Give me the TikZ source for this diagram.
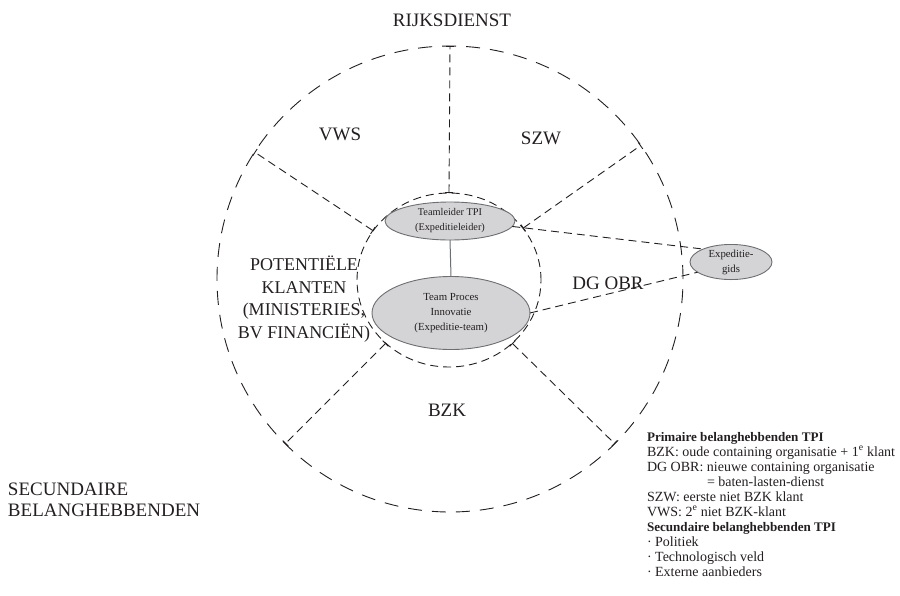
\documentclass[tikz,border=0pt]{standalone}
\usepackage{fontspec}
\setmainfont{Liberation Serif}
\usetikzlibrary{shapes.geometric,arrows.meta}
\definecolor{ink}{HTML}{231F20}
\definecolor{fillg}{HTML}{D4D4D6}
\definecolor{edgeg}{HTML}{6D6E71}
\newcommand{\legbold}[1]{{\fontsize{13.1}{15}\selectfont\bfseries #1}}
\begin{document}
\begin{tikzpicture}[x=1pt,y=-1pt,
  lbl/.style={inner sep=0pt,outer sep=0pt,text=ink,font=\fontsize{19}{22}\selectfont},
  ring/.style={draw=ink,line width=0.9pt,inner sep=0pt,outer sep=0pt},
  divider/.style={draw=ink,line width=0.9pt,dash pattern=on 8pt off 5pt,
    arrows={Bar[width=8pt,line width=0.9pt]-Bar[width=8pt,line width=0.9pt]}},
  dline/.style={draw=ink,line width=0.9pt,dash pattern=on 8pt off 5pt},
  sline/.style={draw=edgeg,line width=1pt},
  ell/.style={ellipse,draw=edgeg,fill=fillg,line width=0.9pt,inner sep=0pt,outer sep=0pt,align=center,text=ink}
]
\useasboundingbox (0,0) rectangle (900,595);

% rings
\node[ring,circle,dash pattern=on 14pt off 10pt,minimum size=466pt] (outer) at (450,279) {};
\node[ring,ellipse,dash pattern=on 8pt off 5pt,minimum width=184pt,minimum height=174pt] (inner) at (449,280) {};

% dividers
\draw[divider] (inner.90) -- (outer.90);
\draw[divider] (inner.35) -- (outer.35);
\draw[divider] (inner.147) -- (outer.147);
\draw[divider] (inner.225) -- (outer.225);
\draw[divider] (inner.315) -- (outer.315);

% ellipses
\node[ell,minimum width=130pt,minimum height=38pt,font=\fontsize{10.3}{15}\selectfont] (tl) at (450,221) {Teamleider TPI\\(Expeditieleider)};
\node[ell,minimum width=158pt,minimum height=73pt,font=\fontsize{10.8}{15}\selectfont] (team) at (451,313) {Team Proces\\Innovatie\\(Expeditie-team)};
\node[ell,minimum width=82pt,minimum height=35pt,font=\fontsize{10.8}{15}\selectfont] (gids) at (731,262) {Expeditie-\\gids};

% connectors
\draw[sline] (tl.south) -- (team.north);
\draw[dline] (tl.-5) -- (gids.155);
\draw[dline] (team.east) -- (gids.197);

% labels
\node[lbl,anchor=base] (rijks) at (452,26.5) {RIJKSDIENST};
\node[lbl,anchor=base] (vws) at (340,140) {VWS};
\node[lbl,anchor=base] (szw) at (541,144) {SZW};
\node[lbl,anchor=base] (dgobr) at (608,289) {DG OBR};
\node[lbl,anchor=base] (bzk) at (447,416) {BZK};
\node[lbl,align=center,font=\fontsize{18}{22.5}\selectfont] (pot) at (304,299) {POTENTIËLE\\KLANTEN\\(MINISTERIES,\\BV FINANCIËN)};
\node[lbl,anchor=west,align=left,font=\fontsize{19}{21}\selectfont] (sec) at (8,499.7) {SECUNDAIRE\\BELANGHEBBENDEN};

% legend
\node[lbl,anchor=north west,align=left,font=\fontsize{14}{15}\selectfont] (legend) at (647,432) {\legbold{Primaire belanghebbenden TPI}\\
BZK: oude containing organisatie + 1\textsuperscript{e} klant\\
DG OBR: nieuwe containing organisatie\\
\hspace*{60pt}= baten-lasten-dienst\\
SZW: eerste niet BZK klant\\
VWS: 2\textsuperscript{e} niet BZK-klant\\
\legbold{Secundaire belanghebbenden TPI}\\
· Politiek\\
· Technologisch veld\\
· Externe aanbieders};
\end{tikzpicture}
\end{document}
